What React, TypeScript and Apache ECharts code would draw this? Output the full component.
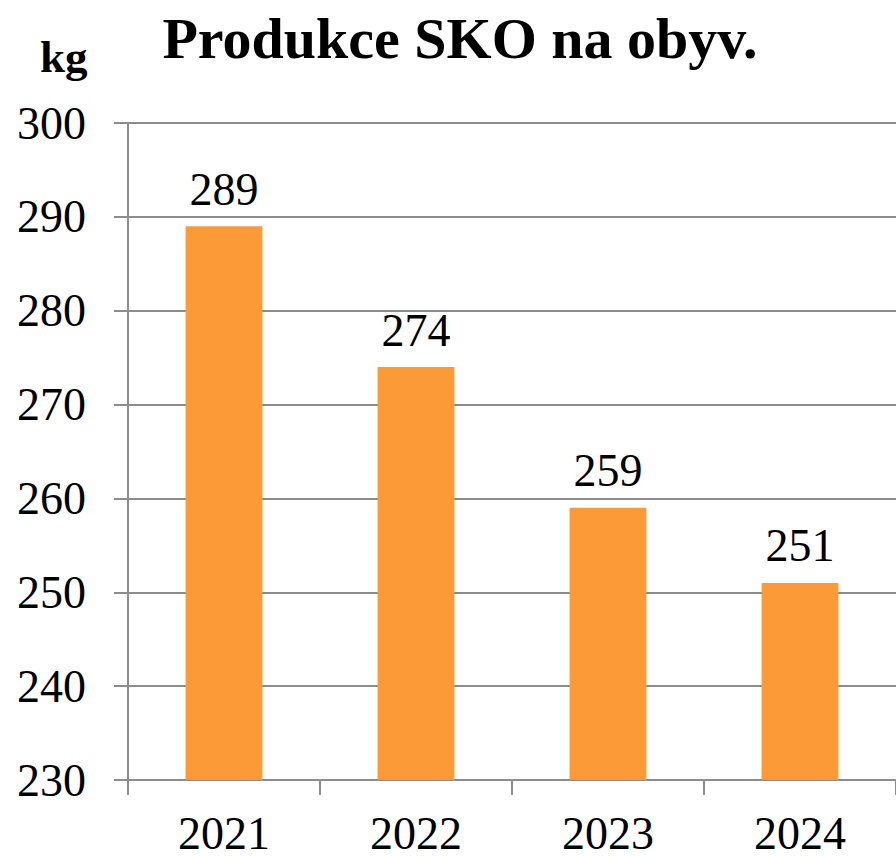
import React, { useEffect, useRef } from "react";
import * as echarts from "echarts";

const categories = ["2021", "2022", "2023", "2024"];
const values = [289, 274, 259, 251];
const titleText = "Produkce SKO na obyv.";
const unitText = "kg";

export default function App() {
  const ref = useRef<HTMLDivElement>(null);
  useEffect(() => {
    document.body.style.margin = "0";
    const chart = echarts.init(ref.current!, null, { renderer: "svg" });
    const serif = "Liberation Serif";
    chart.setOption({
      animation: false,
      backgroundColor: "#ffffff",
      title: {
        text: titleText,
        left: 455,
        textAlign: "center",
        top: 4,
        textStyle: { fontFamily: serif, fontWeight: "bold", fontSize: 58, color: "#000" },
      },
      graphic: [
        {
          type: "text",
          left: 40,
          top: 34,
          style: { text: unitText, fontFamily: serif, fontWeight: "bold", fontSize: 45, fill: "#000" },
        },
      ],
      grid: { left: 128, right: 0, top: 123, bottom: 74, containLabel: false },
      xAxis: {
        type: "category",
        data: categories,
        axisLine: { show: true, lineStyle: { color: "#8c8c8c", width: 2 } },
        axisTick: { show: true, length: 15, lineStyle: { color: "#8c8c8c", width: 2 } },
        axisLabel: { fontFamily: serif, fontSize: 46, lineHeight: 36, color: "#000", margin: 35 },
      },
      yAxis: {
        type: "value",
        min: 230,
        max: 300,
        interval: 10,
        axisLine: { show: true, lineStyle: { color: "#8c8c8c", width: 2 } },
        axisTick: { show: true, length: 14, lineStyle: { color: "#8c8c8c", width: 2 } },
        splitLine: { show: true, lineStyle: { color: "#8c8c8c", width: 2 } },
        axisLabel: { fontFamily: serif, fontSize: 46, color: "#000", margin: 42 },
      },
      series: [
        {
          type: "bar",
          data: values,
          barCategoryGap: "60%",
          itemStyle: { color: "#FD9A38" },
          label: {
            show: true,
            position: "top",
            distance: 14,
            fontFamily: serif,
            fontSize: 46,
            color: "#000",
          },
        },
      ],
    });
    return () => chart.dispose();
  }, []);
  return <div ref={ref} style={{ position: "absolute", left: 0, top: 0, width: 896, height: 856 }} />;
}
